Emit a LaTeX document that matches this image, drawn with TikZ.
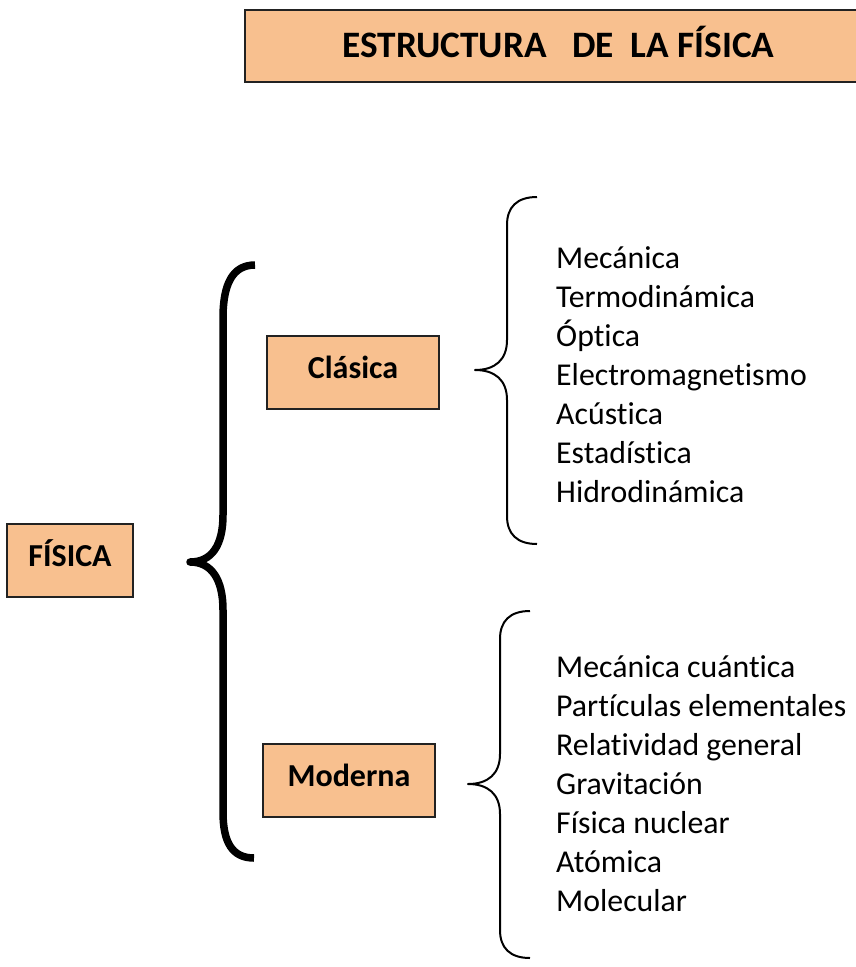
\documentclass[tikz,border=0pt]{standalone}
\usepackage{fontspec}
\setmainfont[Ligatures=NoCommon]{Carlito}
\definecolor{peach}{HTML}{F8C08F}
\definecolor{edge}{HTML}{222222}
\begin{document}
\begin{tikzpicture}[x=1pt,y=-1pt,
  box/.style={draw=edge, line width=1.5pt, fill=peach, inner sep=0pt,
    font=\bfseries\fontsize{32}{38}\selectfont, text height=14pt, text depth=3pt},
  titlebox/.style={box, font=\bfseries\fontsize{37.3}{44}\selectfont, text height=24pt, text depth=2pt},
  listitem/.style={anchor=base west, inner sep=0pt, font=\fontsize{31.8}{38}\selectfont},
  bigbrace/.style={draw=black, line width=7.5pt, line join=round, line cap=butt},
  smallbrace/.style={draw=black, line width=2pt, line join=round}]
\useasboundingbox (0,0) rectangle (856,967);

\node[titlebox, minimum width=627pt, minimum height=72pt] (title) at (558.5,46) {ESTRUCTURA\ \ \ DE\ \ LA FÍSICA};

\node[box, minimum width=126pt, minimum height=73pt] (fisica) at (70,560.5) {FÍSICA};
\node[box, minimum width=172pt, minimum height=73pt] (clasica) at (353,372.5) {Clásica};
\node[box, minimum width=172pt, minimum height=73pt] (moderna) at (349,780.5) {Moderna};

% big brace
\draw[bigbrace] (255,265) .. controls (232,265) and (223,285) .. (223,318) -- (223,515)
  .. controls (223,545) and (212,562) .. (190,562)
  .. controls (212,562) and (223,580) .. (223,610) -- (223,812)
  .. controls (223,842) and (232,858) .. (254,858);

% small brace Clásica
\draw[smallbrace] (537,197) .. controls (517,197) and (507,207) .. (507,225) -- (507,340)
  .. controls (507,360) and (495,370) .. (475,370)
  .. controls (495,370) and (507,380) .. (507,400) -- (507,516)
  .. controls (507,534) and (517,544) .. (537,544);

% small brace Moderna
\draw[smallbrace] (530,611) .. controls (510,611) and (500,621) .. (500,639) -- (500,754)
  .. controls (500,774) and (488,784) .. (468,784)
  .. controls (488,784) and (500,794) .. (500,814) -- (500,930)
  .. controls (500,948) and (510,958) .. (530,958);

\node[listitem] (c1) at (556,268) {Mecánica};
\node[listitem] (c2) at (556,307) {Termodinámica};
\node[listitem] (c3) at (556,346) {Óptica};
\node[listitem] (c4) at (556,385) {Electromagnetismo};
\node[listitem] (c5) at (556,424) {Acústica};
\node[listitem] (c6) at (556,463) {Estadística};
\node[listitem] (c7) at (556,502) {Hidrodinámica};

\node[listitem] (m1) at (556,677) {Mecánica cuántica};
\node[listitem] (m2) at (556,716) {Partículas elementales};
\node[listitem] (m3) at (556,755) {Relatividad general};
\node[listitem] (m4) at (556,794) {Gravitación};
\node[listitem] (m5) at (556,833) {Física nuclear};
\node[listitem] (m6) at (556,872) {Atómica};
\node[listitem] (m7) at (556,911) {Molecular};
\end{tikzpicture}
\end{document}
